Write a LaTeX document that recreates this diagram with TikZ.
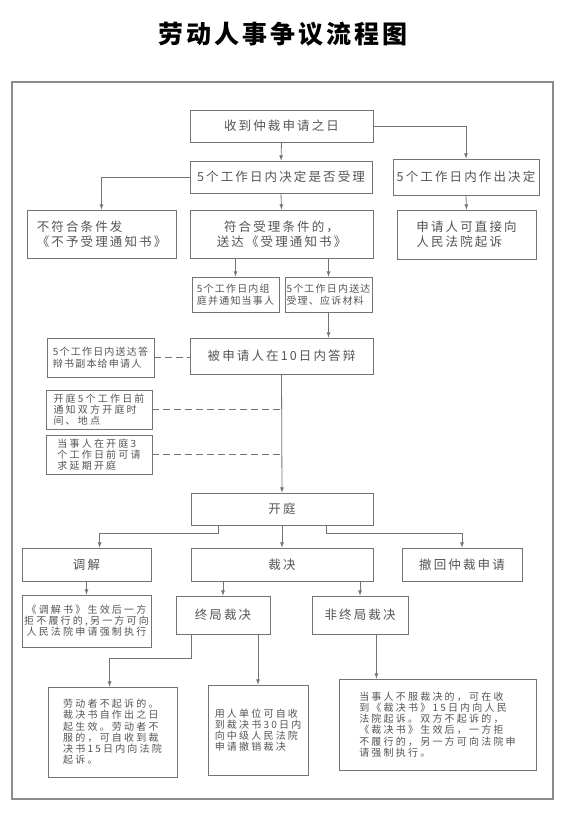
\documentclass[tikz,border=0pt]{standalone}
\usepackage{fontspec}
\setmainfont{Noto Sans CJK SC}[LetterSpace=22]
\newfontfamily\titlefont{Noto Sans CJK SC}[LetterSpace=12]
\newfontfamily\tightfont{Noto Sans CJK SC}[LetterSpace=12]
\newfontfamily\largefont{Noto Sans CJK SC}[LetterSpace=17]
\usetikzlibrary{arrows}

\definecolor{txtgray}{gray}{0.33}
\definecolor{linegray}{gray}{0.45}
\definecolor{framegray}{gray}{0.55}

\newcommand{\largetxt}{\largefont\fontsize{12.5}{15}\selectfont}
\newcommand{\smalltxt}{\fontsize{10}{11.2}\selectfont}
\newcommand{\tighttxt}{\tightfont\fontsize{10}{12}\selectfont}

\begin{document}
\begin{tikzpicture}[x=1pt, y=-1pt,
    box/.style={draw=linegray, line width=0.8pt, rectangle, inner sep=0pt, align=center, text=txtgray},
    bigbox/.style={box, font=\largetxt},
    smallbox/.style={box, font=\smalltxt},
    line/.style={draw=linegray, line width=0.8pt},
    arr/.style={line, -latex},
    dashline/.style={line, dash pattern=on 7pt off 4pt}]
      \useasboundingbox (0,0) rectangle (567,816);

      % title and frame
      \node[font=\titlefont\bfseries\fontsize{25}{28}\selectfont] (title) at (283,34) {劳动人事争议流程图};
      \draw[framegray, line width=1.1pt] (12,82) rectangle (553,799);

      % application and acceptance
      \node[bigbox, minimum width=183, minimum height=32] (recv) at (281.5,126) {收到仲裁申请之日};
      \node[bigbox, minimum width=182, minimum height=32] (decide) at (281,177) {5个工作日内决定是否受理};
      \node[bigbox, minimum width=146, minimum height=36] (decide2) at (466,177) {5个工作日内作出决定};
      \node[bigbox, minimum width=149, minimum height=48, align=left] (reject) at (101.5,234) {不符合条件发\\《不予受理通知书》};
      \node[bigbox, minimum width=183, minimum height=48] (accept) at (281.5,234) {符合受理条件的，\\送达《受理通知书》};
      \node[bigbox, minimum width=139, minimum height=49, align=left] (court) at (466.5,234.5) {申请人可直接向\\人民法院起诉};
      \node[box, font=\tighttxt, minimum width=87, minimum height=35, align=left] (panel) at (235.5,294.5) {5个工作日内组\\庭并通知当事人};
      \node[box, font=\tighttxt, minimum width=87, minimum height=35, align=left] (deliver) at (328.5,294.5) {5个工作日内送达\\受理、应诉材料};

      % reply and hearing notices
      \node[bigbox, minimum width=183, minimum height=36] (reply) at (281.5,356) {被申请人在10日内答辩};
      \node[box, font=\tighttxt, minimum width=107, minimum height=39, align=left] (copy) at (100.5,357.5) {5个工作日内送达答\\辩书副本给申请人};
      \node[smallbox, minimum width=106, minimum height=39, align=left] (notify) at (99,409.5) {开庭5个工作日前\\通知双方开庭时\\间、地点};
      \node[smallbox, minimum width=106, minimum height=39, align=left] (delay) at (99,454.5) {当事人在开庭3\\个工作日前可请\\求延期开庭};
      \node[bigbox, minimum width=182, minimum height=32] (hearing) at (282,509) {开庭};

      % outcomes
      \node[bigbox, minimum width=129, minimum height=33] (mediate) at (86.5,564.5) {调解};
      \node[bigbox, minimum width=182, minimum height=33] (award) at (282,564.5) {裁决};
      \node[bigbox, minimum width=120, minimum height=33] (withdraw) at (462,564.5) {撤回仲裁申请};
      \node[smallbox, minimum width=129, minimum height=52] (enforce) at (86.5,621) {《调解书》生效后一方\\拒不履行的,另一方可向\\人民法院申请强制执行};
      \node[bigbox, minimum width=94, minimum height=38] (final) at (223,615) {终局裁决};
      \node[bigbox, minimum width=96, minimum height=38] (nonfinal) at (360,615) {非终局裁决};
      \node[smallbox, minimum width=129, minimum height=90, align=left] (worker) at (112.5,732) {劳动者不起诉的。\\裁决书自作出之日\\起生效。劳动者不\\服的，可自收到裁\\决书15日内向法院\\起诉。};
      \node[smallbox, minimum width=100, minimum height=90, align=left] (employer) at (258,730) {用人单位可自收\\到裁决书30日内\\向中级人民法院\\申请撤销裁决};
      \node[smallbox, minimum width=197, minimum height=91, align=left] (party) at (437.5,724.5) {当事人不服裁决的，可在收\\到《裁决书》15日内向人民\\法院起诉。双方不起诉的，\\《裁决书》生效后，一方拒\\不履行的，另一方可向法院申\\请强制执行。};

      % connectors
      \draw[arr] (recv.south) -- (decide.north);
      \draw[arr] (recv.east) -| (decide2.north);
      \draw[arr] (decide.west) -| (reject.north);
      \draw[arr] (decide.south) -- (accept.north);
      \draw[arr] (decide2.south) -- (court.north);
      \draw[arr] (accept.south -| panel.north) -- (panel.north);
      \draw[arr] (accept.south -| deliver.north) -- (deliver.north);
      \draw[arr] (deliver.south) -- (reply.north -| deliver.south);
      \draw[arr] (reply.south) -- (hearing.north);
      \draw[dashline] (copy.east) -- (copy.east -| reply.west);
      \draw[dashline] (notify.east) -- (notify.east -| reply.south);
      \draw[dashline] (delay.east) -- (delay.east -| reply.south);

      \draw[arr] ([xshift=28pt]hearing.south west) -- ++(0,8) -| ([xshift=78pt]mediate.north west);
      \draw[arr] (hearing.south) -- (award.north);
      \draw[arr] ([xshift=-47pt]hearing.south east) -- ++(0,8) -| (withdraw.north);
      \draw[arr] (mediate.south) -- (enforce.north);
      \draw[arr] (award.south -| final.north) -- (final.north);
      \draw[arr] (award.south -| nonfinal.north) -- (nonfinal.north);
      \draw[arr] ([xshift=16pt]final.south west) -- ++(0,24) -| ([xshift=62pt]worker.north west);
      \draw[arr] (final.south -| employer.north) -- (employer.north);
      \draw[arr] ([xshift=-32pt]nonfinal.south east) -- ([xshift=-32pt]nonfinal.south east |- party.north);

    \end{tikzpicture}
\end{document}
